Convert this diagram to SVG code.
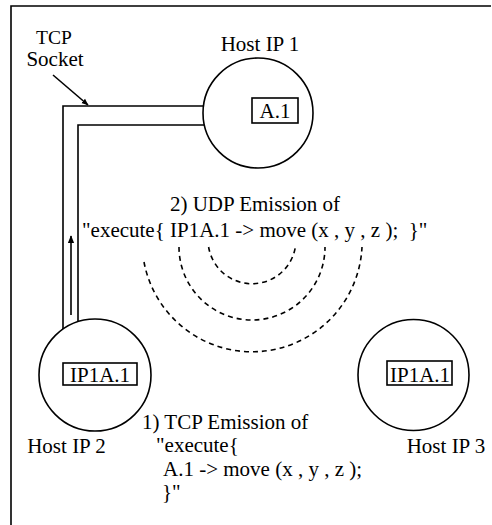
<svg xmlns="http://www.w3.org/2000/svg" width="492" height="525" viewBox="0 0 492 525">
<defs>
<style>
text{font-family:'Liberation Serif','DejaVu Serif',serif;font-size:21px;fill:#000;white-space:pre}
.m{text-anchor:middle}
.s{font-size:19.5px}
.ln{stroke:#000;stroke-width:1.6;fill:none}
.host{stroke:#000;stroke-width:1.6;fill:#fff}
.box{stroke:#000;stroke-width:1.6;fill:#fff}
.wave{stroke:#000;stroke-width:1.6;fill:none;stroke-dasharray:5 4}
</style>
<marker id="ah" viewBox="0 0 10 10" refX="9" refY="5" markerWidth="7" markerHeight="7" markerUnits="userSpaceOnUse" orient="auto">
<path d="M0,1 L10,5 L0,9 Z" fill="#000"/>
</marker>
<marker id="ah2" viewBox="0 0 10 10" refX="9" refY="5" markerWidth="5" markerHeight="5" orient="auto">
<path d="M0,1 L10,5 L0,9 Z" fill="#000"/>
</marker>
</defs>
<rect width="492" height="525" fill="#fff"/>
<g id="frame">
<path class="ln" d="M11,525 V6 H491" stroke-width="2"/>
</g>
<g id="connectors">
<path class="ln" d="M203.4,106 H63 V329"/>
<path class="ln" d="M204.3,125 H78 V321.6"/>
<line class="ln" x1="71" y1="315" x2="71" y2="236" stroke-width="2.4" marker-end="url(#ah2)"/>
<line class="ln" x1="53" y1="75" x2="88" y2="105" stroke-width="1.6" marker-end="url(#ah)"/>
<path class="wave" d="M208.6,247 A44,44 0 0 0 295.4,247"/>
<path class="wave" d="M179,247 A73,73 0 0 0 325,247"/>
<path class="wave" d="M144,262 A110,110 0 0 0 362,247"/>
</g>
<g id="host1">
<circle class="host" cx="258" cy="113" r="55"/>
<rect class="box" x="252" y="98" width="46" height="25"/>
<text class="m" x="275" y="118">A.1</text>
<text class="m" x="260" y="51">Host IP 1</text>
</g>
<g id="host2">
<circle class="host" cx="95" cy="375" r="56"/>
<rect class="box" x="63" y="363" width="74" height="22"/>
<text class="m" x="100" y="382">IP1A.1</text>
<text class="m" x="66.5" y="453">Host IP 2</text>
</g>
<g id="host3">
<circle class="host" cx="413.5" cy="375" r="55.5"/>
<rect class="box" x="387" y="361" width="65" height="24"/>
<text class="m" x="420" y="382">IP1A.1</text>
<text class="m" x="446" y="453">Host IP 3</text>
</g>
<g id="labels">
<text class="m s" x="54" y="44">TCP</text>
<text class="m" x="55" y="66">Socket</text>
<text class="m" x="255" y="211">2) UDP Emission of</text>
<text x="82" y="237">"execute{ IP1A.1 -&gt; move (x , y , z );  }"</text>
<text x="142" y="429">1) TCP Emission of</text>
<text x="156" y="452">"execute{</text>
<text x="163" y="476">A.1 -&gt; move (x , y , z );</text>
<text x="162" y="499">}"</text>
</g>
</svg>
